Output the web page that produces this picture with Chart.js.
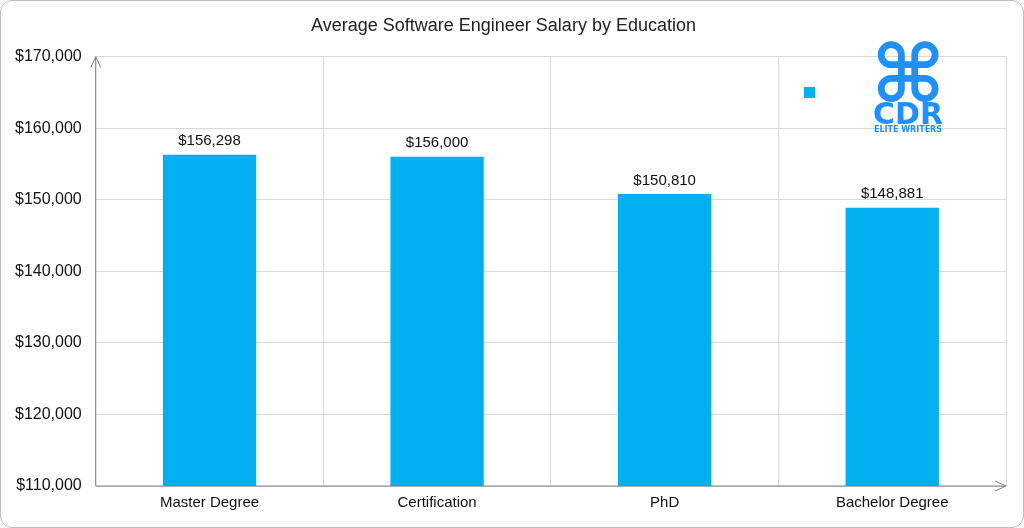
<!DOCTYPE html>
<html>
<head>
<script src="https://cdn.jsdelivr.net/npm/chart.js@4"></script>
<style>
  body { margin: 0; background: #fff; }
  #wrap { position: relative; width: 1022px; height: 526px; border: 1px solid #bdbdbd; border-radius: 12px; overflow: hidden; }
</style>
</head>
<body>
<div id="wrap"><canvas id="salaryChart" width="1022" height="526"></canvas></div>
<script>
// data
const categories = ['Master Degree', 'Certification', 'PhD', 'Bachelor Degree'];
const salaries = [156298, 156000, 150810, 148881];
const yTicks = [110000, 120000, 130000, 140000, 150000, 160000, 170000];

const fmt = v => '$' + v.toLocaleString('en-US');

// arrows on axes, value labels, logo
const extras = {
    id: 'extras',
    afterDatasetsDraw(chart) {
        const { ctx, chartArea: a } = chart;
        ctx.save();
        ctx.strokeStyle = '#7f7f7f';
        ctx.lineWidth = 1;
        ctx.beginPath();
        ctx.moveTo(a.left, a.bottom); ctx.lineTo(a.left, a.top);
        ctx.moveTo(a.left - 5, a.top + 11); ctx.lineTo(a.left, a.top); ctx.lineTo(a.left + 5, a.top + 11);
        ctx.moveTo(a.left, a.bottom); ctx.lineTo(a.right, a.bottom);
        ctx.moveTo(a.right - 11, a.bottom - 5); ctx.lineTo(a.right, a.bottom); ctx.lineTo(a.right - 11, a.bottom + 5);
        ctx.stroke();

        // labels above bars
        ctx.fillStyle = '#111';
        ctx.font = '15px "Liberation Sans", Arial, sans-serif';
        ctx.textAlign = 'center';
        ctx.textBaseline = 'bottom';
        chart.getDatasetMeta(0).data.forEach((bar, i) => {
            ctx.fillText(fmt(salaries[i]), bar.x, bar.y - 6);
        });

        // legend marker and logo
        ctx.fillStyle = '#00b0f0';
        ctx.fillRect(803, 86, 11, 11);
        ctx.fillStyle = '#1e90ff';
        ctx.font = 'bold 80px "DejaVu Sans", sans-serif';
        ctx.textBaseline = 'middle';
        ctx.fillText('⌘', 907, 80);
        ctx.font = 'bold 30px "DejaVu Sans", sans-serif';
        ctx.fillText('CDR', 907, 115);
        ctx.font = 'bold 8px "DejaVu Sans", sans-serif';
        ctx.fillText('ELITE WRITERS', 907, 129);
        ctx.restore();
    }
};

new Chart(document.getElementById('salaryChart'), {
    type: 'bar',
    data: {
        labels: categories,
        datasets: [{
            data: salaries,
            backgroundColor: '#00b0f0',
            categoryPercentage: 1,
            barPercentage: 0.41
        }]
    },
    options: {
        responsive: false,
        animation: false,
        layout: { padding: { top: 1, right: 17, bottom: 7, left: 0 } },
        plugins: {
            legend: { display: false },
            tooltip: { enabled: false },
            title: {
                display: true,
                text: 'Average Software Engineer Salary by Education',
                color: '#222',
                font: { family: '"Liberation Sans", Arial, sans-serif', size: 18, weight: 'normal' },
                padding: { top: 13, bottom: 20 }
            }
        },
        scales: {
            x: {
                grid: { color: '#d9d9d9', offset: true, drawTicks: false },
                border: { display: false },
                ticks: { color: '#111', font: { family: '"Liberation Sans", Arial, sans-serif', size: 15 }, padding: 8 }
            },
            y: {
                min: 110000,
                max: 170000,
                afterBuildTicks: s => { s.ticks = yTicks.map(v => ({ value: v })); },
                grid: { color: '#d9d9d9', drawTicks: false },
                border: { display: false },
                ticks: { color: '#111', font: { family: '"Liberation Sans", Arial, sans-serif', size: 16 }, padding: 14, callback: v => fmt(v) }
            }
        }
    },
    plugins: [extras]
});
</script>
</body>
</html>
